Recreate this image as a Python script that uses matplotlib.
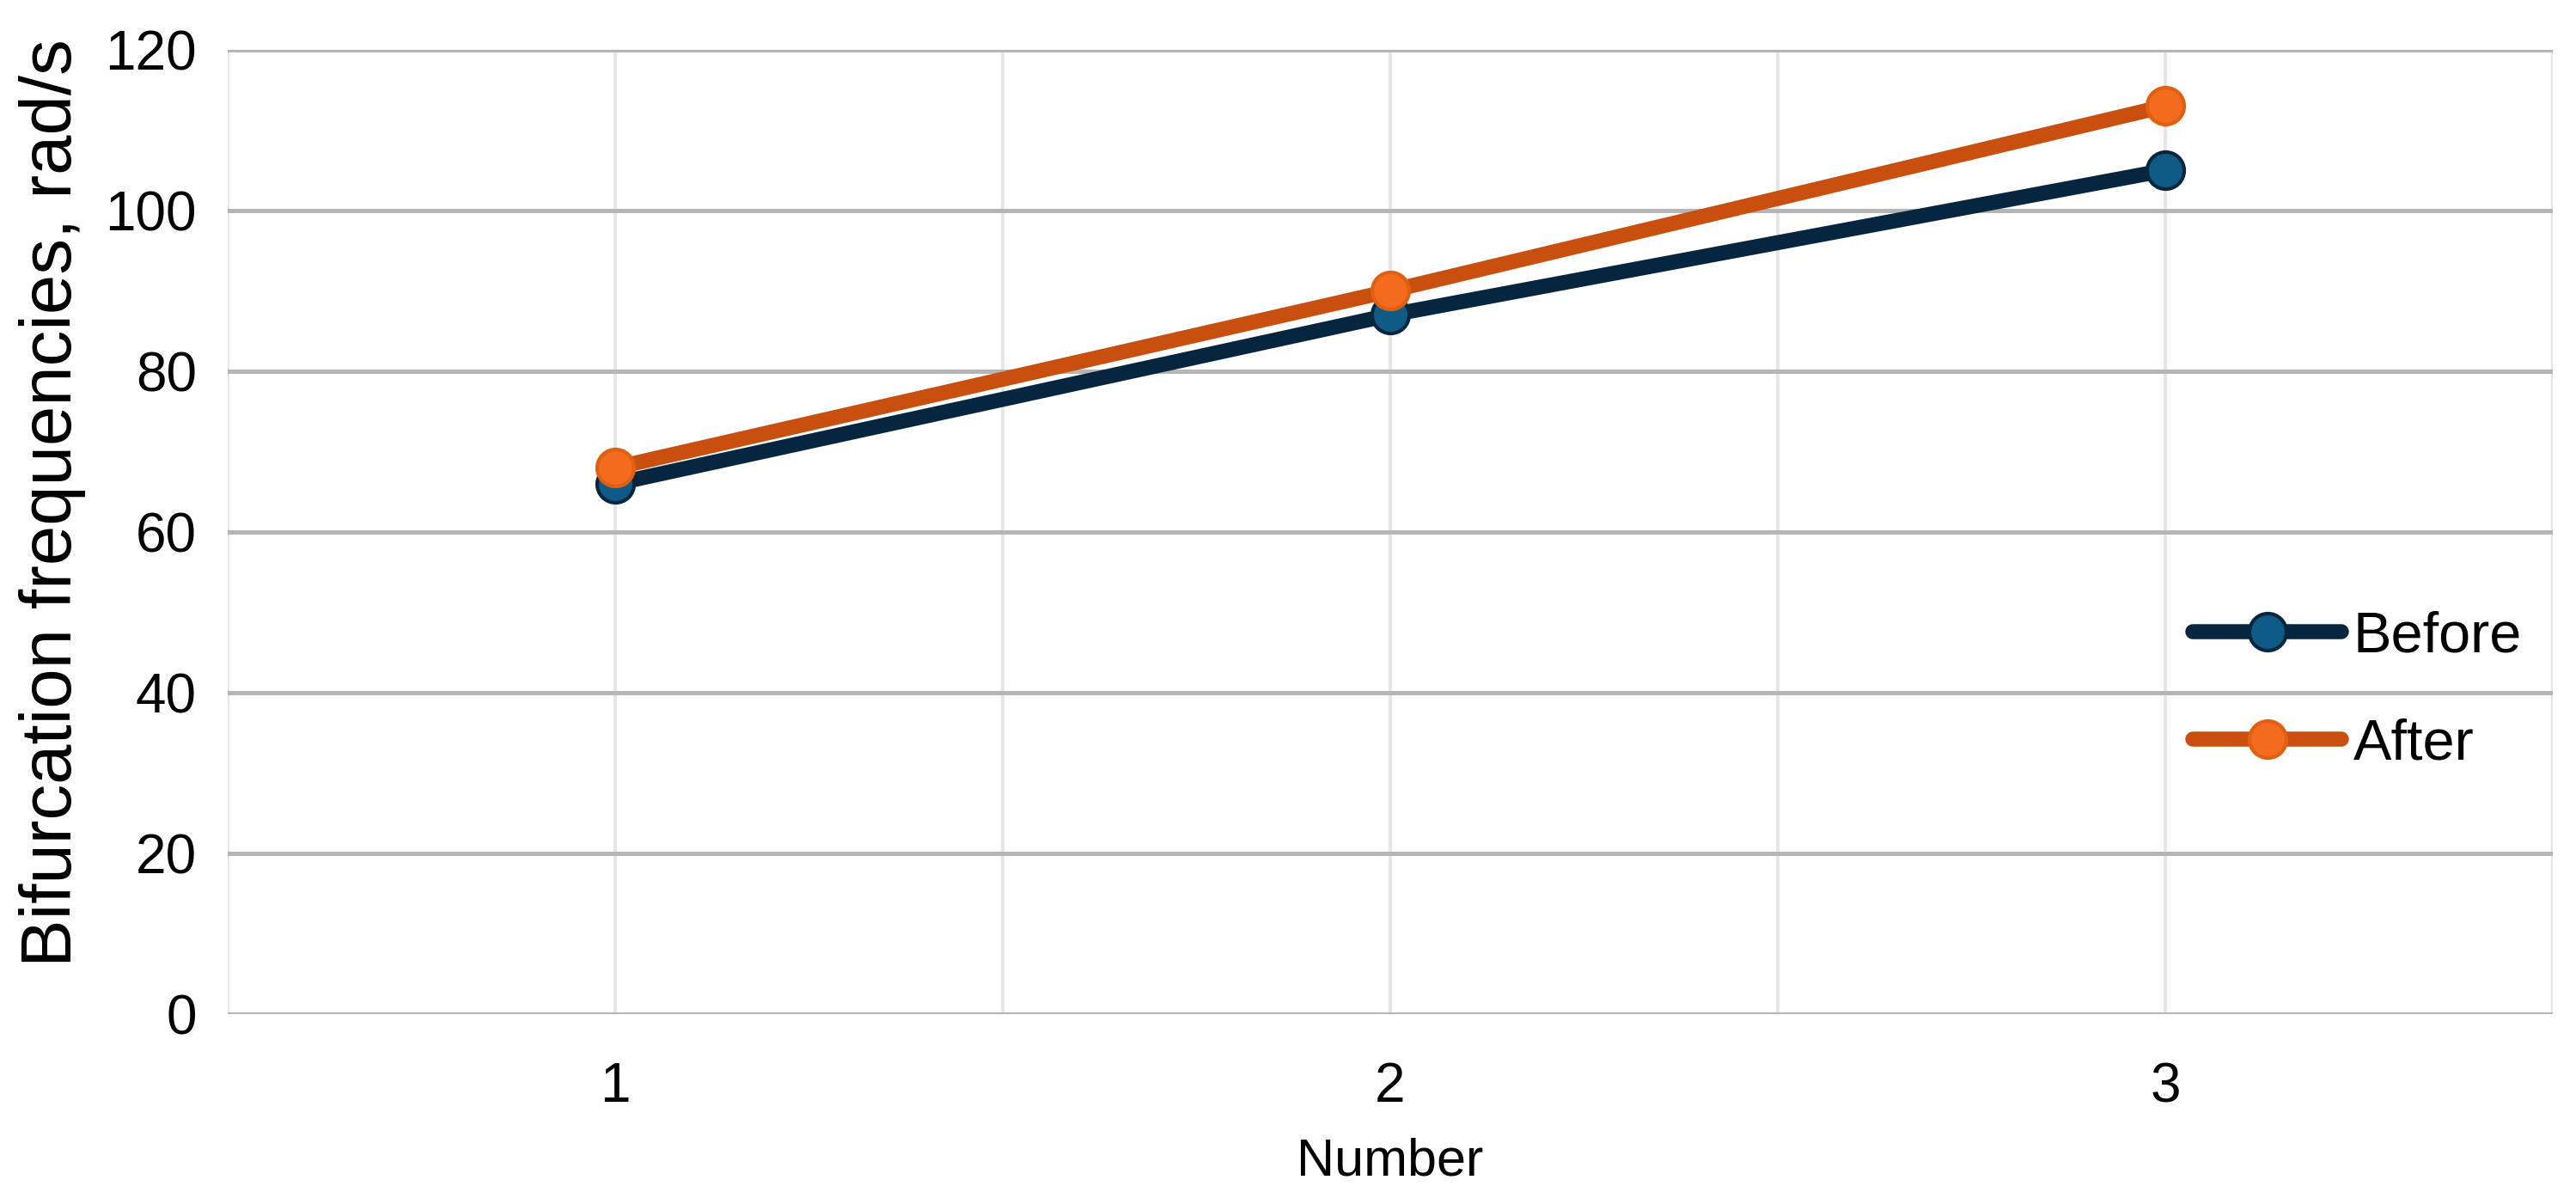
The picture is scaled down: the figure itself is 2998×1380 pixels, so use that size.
import numpy as np
import matplotlib
matplotlib.use('Agg')
import matplotlib.pyplot as plt

plt.rcParams['font.family'] = ['Liberation Sans', 'DejaVu Sans']

numbers = [1, 2, 3]
before = [66, 87, 105]
after = [68, 90, 113]
yticks = [0, 20, 40, 60, 80, 100, 120]

fig = plt.figure(figsize=(14.99, 6.9), dpi=200)
ax = fig.add_axes([0.0884, 0.145, 0.9026, 0.813])

# grid
for x in np.arange(0.5, 3.51, 0.5):
    ax.axvline(x, color='#e6e6e6', linewidth=1.5, zorder=0)
for y in yticks:
    ax.axhline(y, color='#b5b5b5', linewidth=1.8, zorder=1)

ax.plot(numbers, before, color='#06263f', linewidth=6.3, marker='o', markersize=15.5,
        markerfacecolor='#0e5c86', markeredgecolor='#06263f', markeredgewidth=1.5,
        solid_capstyle='round', label='Before', zorder=3)
ax.plot(numbers, after, color='#c94f0e', linewidth=6.3, marker='o', markersize=15.5,
        markerfacecolor='#f46a1e', markeredgecolor='#e0600f', markeredgewidth=1.5,
        solid_capstyle='round', label='After', zorder=4)

ax.set_xlim(0.5, 3.5)
ax.set_ylim(0, 120)
ax.set_xticks(numbers)
ax.set_yticks(yticks)
ax.tick_params(length=0, labelsize=23, pad=20)
ax.tick_params(axis='y', pad=13)
for s in ax.spines.values():
    s.set_visible(False)

ax.set_ylabel('Bifurcation frequencies, rad/s', fontsize=30)
ax.yaxis.set_label_coords(-0.061, 0.53)
ax.set_xlabel('Number', fontsize=22, labelpad=10)

ax.legend(loc='center left', bbox_to_anchor=(0.823, 0.335), frameon=False,
          fontsize=24, handlelength=2.6, handletextpad=0.2, labelspacing=0.95)

fig.savefig('out.png', dpi=200)
